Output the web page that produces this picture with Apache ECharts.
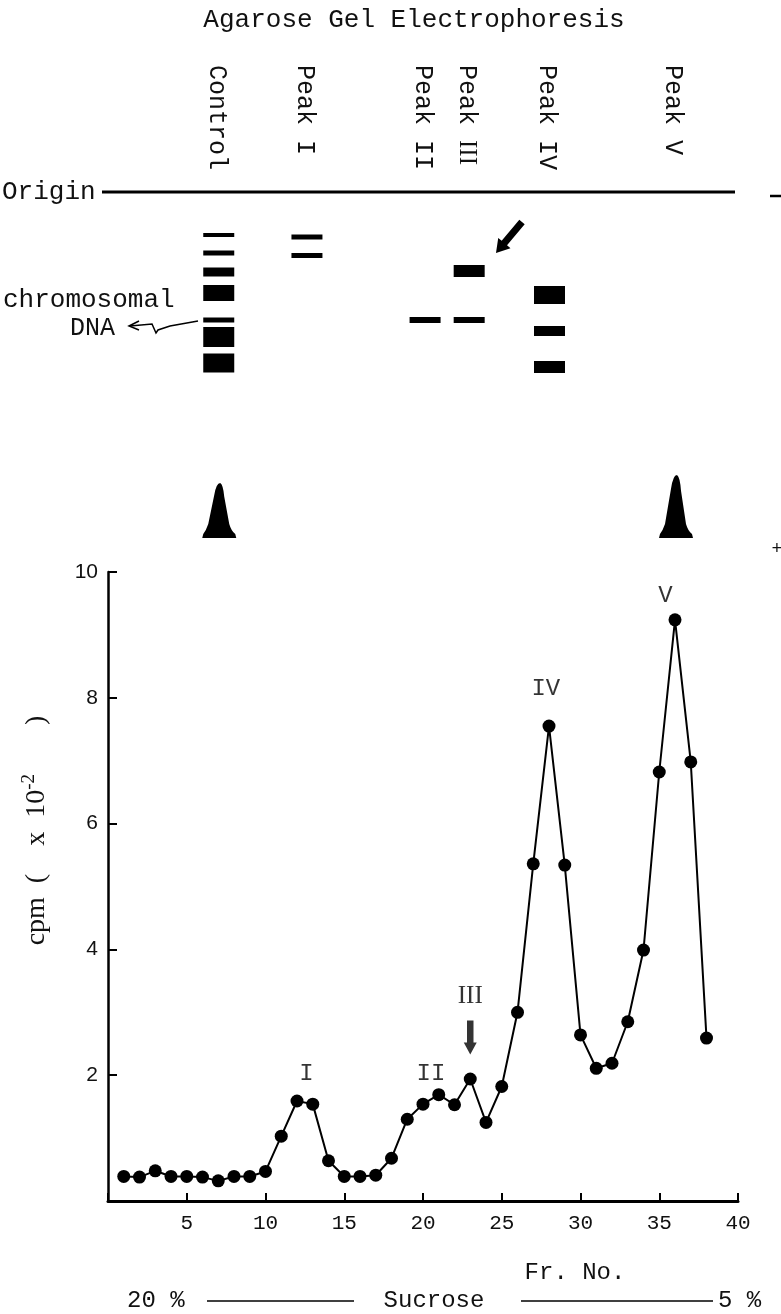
<!DOCTYPE html>
<html><head><meta charset="utf-8">
<script src="https://cdn.jsdelivr.net/npm/echarts@6/dist/echarts.min.js"></script>
<style>html,body{margin:0;padding:0;background:#fff}#c{width:781px;height:1314px}</style>
</head><body><div id="c"></div>
<script>
// ---- sucrose gradient profile ----
const fractions = [1,2,3,4,5,6,7,8,9,10,11,12,13,14,15,16,17,18,19,20,21,22,23,24,25,26,27,28,29,30,31,32,33,34,35,36,37,38];
const cpm = [0.39,0.38,0.48,0.39,0.39,0.38,0.32,0.39,0.39,0.47,1.03,1.59,1.54,0.64,0.39,0.39,0.41,0.68,1.30,1.54,1.69,1.53,1.94,1.25,1.82,3.00,5.36,7.55,5.34,2.64,2.11,2.19,2.85,3.99,6.82,9.24,6.98,2.59];
const xTicks = [5,10,15,20,25,30,35,40];
const yTicks = [2,4,6,8,10];
const peakNames = ['I','II','III','IV','V'];
const peakLabelPos = [[12.6,2.03],[20.5,2.03],[23,3.25],[27.8,8.15],[35.4,9.63]];
const arrowPos = [23, 2.6];

// ---- agarose gel (migration from origin, arbitrary units 0..346) ----
const laneNames = ['Control','Peak I','Peak II','Peak III','Peak IV','Peak V'];
const lanePos = [7.0, 12.6, 20.1, 22.9, 28.0, 36.0];
const controlBands = [[43,4],[61,5],[80,9],[101,16],[128,5],[145,20],[171,19]];
const peak1Bands = [[45,5],[63.5,5]];
const peak2Bands = [[128,6]];
const peak3Bands = [[79,12],[128,6]];
const peak4Bands = [[103,18],[139,10],[175,12]];
const peak5Bands = [];
const scanPeaks = [[0, 55], [5, 63]]; // lane index, height (densitometer trace)

const MONO = '"Liberation Mono", "DejaVu Sans Mono", monospace';
const SERIF = '"Liberation Serif", "DejaVu Serif", serif';
const laneBands = [controlBands, peak1Bands, peak2Bands, peak3Bands, peak4Bands, peak5Bands];
const bandData = [];
laneBands.forEach((arr, i) => arr.forEach(b => bandData.push([lanePos[i], b[0], b[1]])));

const chart = echarts.init(document.getElementById('c'), null, {renderer: 'canvas'});

function arrowPoly(x1, y1, x2, y2, shaft, head, headLen) {
  const dx = x2 - x1, dy = y2 - y1, L = Math.hypot(dx, dy);
  const ux = dx / L, uy = dy / L, px = -uy, py = ux;
  const bx = x2 - ux * headLen, by = y2 - uy * headLen;
  return [
    [x1 + px * shaft / 2, y1 + py * shaft / 2],
    [bx + px * shaft / 2, by + py * shaft / 2],
    [bx + px * head / 2, by + py * head / 2],
    [x2, y2],
    [bx - px * head / 2, by - py * head / 2],
    [bx - px * shaft / 2, by - py * shaft / 2],
    [x1 - px * shaft / 2, y1 - py * shaft / 2]
  ];
}
// roman "III" drawn in serif so the serifs join into bars, as in the original
const richRoman = {r: {fontFamily: SERIF, fontSize: 25, color: '#000'}};
function laneText(name) {
  return name.indexOf('III') >= 0 ? name.replace('III', '{r|III}') : name;
}

const option = {
  backgroundColor: '#fff',
  animation: false,
  grid: [
    {left: 108, right: 43, top: 572, bottom: 113},
    {left: 108, right: 43, top: 192, height: 346}
  ],
  xAxis: [
    {gridIndex: 0, type: 'value', min: 0, max: 40, interval: 5,
     axisLine: {lineStyle: {color: '#000', width: 3}},
     axisTick: {inside: true, length: 8, lineStyle: {color: '#000', width: 2}},
     splitLine: {show: false},
     axisLabel: {color: '#111', fontFamily: MONO, fontSize: 21, margin: 12,
       formatter: v => xTicks.indexOf(v) >= 0 ? String(v) : ''},
     name: 'Fr. No.', nameLocation: 'middle', nameGap: 60,
     nameTextStyle: {color: '#111', fontFamily: MONO, fontSize: 24, padding: [0, 0, 0, 304]}
    },
    {gridIndex: 1, type: 'value', min: 0, max: 40, show: false}
  ],
  yAxis: [
    {gridIndex: 0, type: 'value', min: 0, max: 10, interval: 2,
     axisLine: {show: true, lineStyle: {color: '#000', width: 2.5}},
     axisTick: {show: true, inside: true, length: 9, lineStyle: {color: '#000', width: 2}},
     splitLine: {show: false},
     axisLabel: {color: '#111', fontFamily: '"Liberation Sans", Arial, sans-serif', fontSize: 21, margin: 10,
       formatter: v => yTicks.indexOf(v) >= 0 ? String(v) : ''},
     name: '{a|cpm  (    x  10}{s|-2}{a|       )}', nameLocation: 'middle', nameRotate: 90, nameGap: 54,
     nameTextStyle: {padding: [0, 0, 0, 112], rich: {
       a: {fontFamily: SERIF, fontSize: 28, color: '#111', lineHeight: 34},
       s: {fontFamily: SERIF, fontSize: 19, color: '#111', verticalAlign: 'top', lineHeight: 34, padding: [0, 0, 14, 0]}
     }}
    },
    {gridIndex: 1, type: 'value', min: 0, max: 346, inverse: true, show: false}
  ],
  series: [
    {type: 'line', xAxisIndex: 0, yAxisIndex: 0,
     data: fractions.map((f, i) => [f, cpm[i]]),
     symbol: 'circle', symbolSize: 13, showSymbol: true,
     itemStyle: {color: '#000'}, lineStyle: {color: '#000', width: 2}, z: 3},
    {type: 'scatter', xAxisIndex: 0, yAxisIndex: 0, symbolSize: 0,
     data: peakNames.map((n, i) => ({name: n, value: peakLabelPos[i]})),
     label: {show: true, position: 'inside', color: '#000', fontFamily: MONO, fontSize: 24,
       formatter: p => p.name === 'III' ? '{r|III}' : p.name, rich: richRoman}},
    {type: 'scatter', xAxisIndex: 0, yAxisIndex: 0,
     symbol: 'path://M3,0 L9,0 L9,22 L12,22 L6,34 L0,22 L3,22 Z', symbolSize: [13, 34],
     itemStyle: {color: '#000'}, data: [arrowPos]},
    // gel bands
    {type: 'custom', xAxisIndex: 1, yAxisIndex: 1, data: bandData,
     renderItem: (params, api) => {
       const c = api.coord([api.value(0), api.value(1)]);
       const h = api.size([0, api.value(2)])[1];
       return {type: 'rect', shape: {x: c[0] - 15, y: c[1] - h / 2, width: 31, height: h}, style: {fill: '#000'}};
     }},
    // densitometer-like peaks under lanes
    {type: 'custom', xAxisIndex: 1, yAxisIndex: 1,
     data: scanPeaks.map(p => [lanePos[p[0]], 346, p[1]]),
     renderItem: (params, api) => {
       const c = api.coord([api.value(0), api.value(1)]);
       const h = api.size([0, api.value(2)])[1];
       const x = c[0] + 1, y = c[1];
       const d = `M${x-17},${y} L${x-16},${y-4} Q${x-13},${y-8} ${x-11},${y-14} L${x-5},${y-h*0.78} Q${x-3},${y-h} ${x+1},${y-h} Q${x+4},${y-h+2} ${x+5},${y-h*0.75} L${x+10},${y-14} Q${x+12},${y-7} ${x+16},${y-4} L${x+17},${y} Z`;
       return {type: 'path', shape: {pathData: d}, style: {fill: '#000'}};
     }},
    // lane labels
    {type: 'custom', xAxisIndex: 1, yAxisIndex: 1,
     data: laneNames.map((n, i) => [lanePos[i], 0, n]),
     renderItem: (params, api) => {
       const c = api.coord([api.value(0), 0]);
       return {type: 'text', x: c[0] - 2, y: c[1] - 127, rotation: -Math.PI / 2,
         style: {text: laneText(laneNames[params.dataIndex]), font: '25px ' + MONO, fill: '#111', rich: richRoman,
           textAlign: 'left', textVerticalAlign: 'middle', align: 'left', verticalAlign: 'middle'}};
     }}
  ],
  graphic: [
    {type: 'text', x: 414, y: 20, style: {text: 'Agarose Gel Electrophoresis', font: '26px ' + MONO, fill: '#111', textAlign: 'center', textVerticalAlign: 'middle', align: 'center', verticalAlign: 'middle'}},
    {type: 'text', x: 2, y: 192, style: {text: 'Origin', font: '26px ' + MONO, fill: '#111', textAlign: 'left', textVerticalAlign: 'middle', verticalAlign: 'middle'}},
    {type: 'line', shape: {x1: 102, y1: 192, x2: 735, y2: 192}, style: {stroke: '#000', lineWidth: 3}},
    {type: 'line', shape: {x1: 770, y1: 196, x2: 781, y2: 196}, style: {stroke: '#000', lineWidth: 2.5}},
    {type: 'text', x: 777, y: 549, style: {text: '+', font: '18px ' + MONO, fill: '#111', textAlign: 'center', textVerticalAlign: 'middle', align: 'center', verticalAlign: 'middle'}},
    {type: 'text', x: 3, y: 300, style: {text: 'chromosomal', font: '26px ' + MONO, fill: '#111', textAlign: 'left', textVerticalAlign: 'middle', verticalAlign: 'middle'}},
    {type: 'text', x: 70, y: 328, style: {text: 'DNA', font: '25px ' + MONO, fill: '#111', textAlign: 'left', textVerticalAlign: 'middle', verticalAlign: 'middle'}},
    {type: 'polyline', shape: {points: [[198, 321], [170, 326], [158, 330], [156, 333], [152, 324], [130, 326]]}, style: {stroke: '#000', lineWidth: 1.5, fill: null}},
    {type: 'polyline', shape: {points: [[139, 321], [129, 326], [139, 330]]}, style: {stroke: '#000', lineWidth: 1.5, fill: null}},
    {type: 'polygon', shape: {points: arrowPoly(522, 222, 496, 253, 7, 16, 13)}, style: {fill: '#000'}},
    {type: 'text', x: 127, y: 1301, style: {text: '20 %', font: '24px ' + MONO, fill: '#111', textAlign: 'left', textVerticalAlign: 'middle', verticalAlign: 'middle'}},
    {type: 'line', shape: {x1: 207, y1: 1301, x2: 354, y2: 1301}, style: {stroke: '#000', lineWidth: 1.5}},
    {type: 'text', x: 434, y: 1301, style: {text: 'Sucrose', font: '24px ' + MONO, fill: '#111', textAlign: 'center', textVerticalAlign: 'middle', align: 'center', verticalAlign: 'middle'}},
    {type: 'line', shape: {x1: 521, y1: 1301, x2: 713, y2: 1301}, style: {stroke: '#000', lineWidth: 1.5}},
    {type: 'text', x: 718, y: 1301, style: {text: '5 %', font: '24px ' + MONO, fill: '#111', textAlign: 'left', textVerticalAlign: 'middle', verticalAlign: 'middle'}}
  ]
};
chart.setOption(option);
</script></body></html>
